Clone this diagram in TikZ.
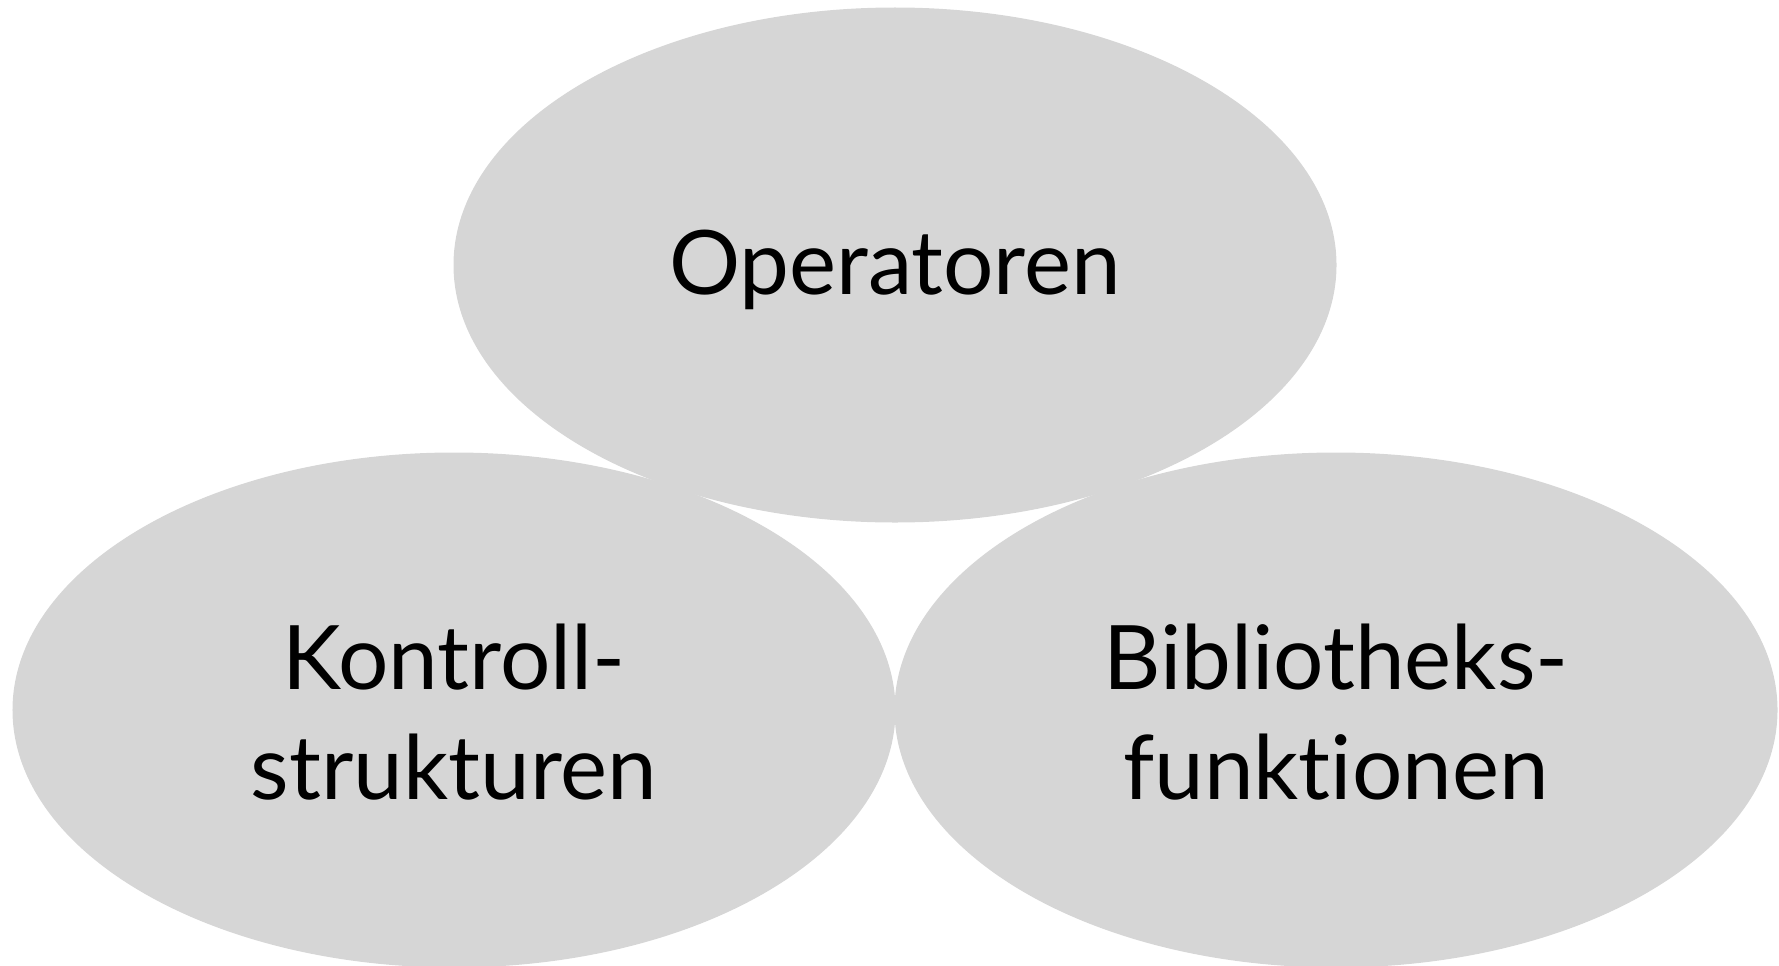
\documentclass[tikz,border=0pt]{standalone}
\usepackage{fontspec}
\setmainfont[Ligatures={NoCommon,NoDiscretionary}]{Lato}
\usetikzlibrary{shapes.geometric}
\definecolor{blobgray}{RGB}{214,214,214}
\tikzset{
  blob/.style={ellipse, fill=blobgray, inner sep=0pt,
    minimum width=883bp, minimum height=515bp},
  label/.style={align=center, text=black,
    font=\fontsize{89bp}{110bp}\selectfont}
}
\begin{document}
\begin{tikzpicture}[x=1bp, y=-1bp]
  \useasboundingbox (0,0) rectangle (1779,965);
  \node[blob] (ops) at (895,265) {};
  \node[blob] (ctl) at (454,710) {};
  \node[blob] (lib) at (1336,710) {};
  \node[label] (opsT) at ([yshift=-5bp]ops.center) {Operatoren};
  \node[label] (ctlT) at ([yshift=-2bp]ctl.center) {Kontroll-\\strukturen};
  \node[label] (libT) at ([yshift=-2bp]lib.center) {Bibliotheks-\\funktionen};
\end{tikzpicture}
\end{document}
